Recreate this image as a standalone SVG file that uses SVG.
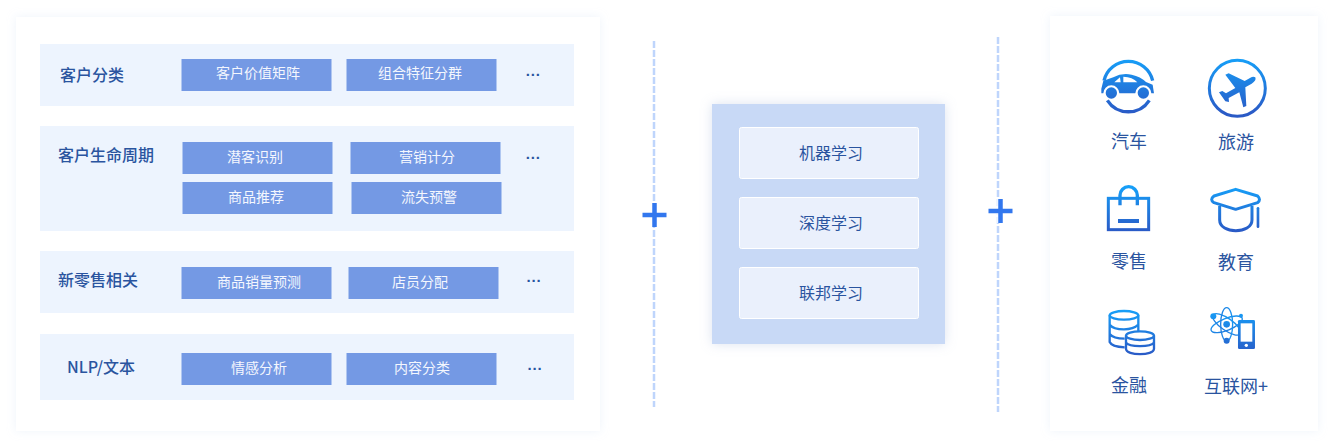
<svg xmlns="http://www.w3.org/2000/svg" width="1335" height="448" viewBox="0 0 1335 448">
<style>
text{font-family:"Noto Sans CJK SC","Noto Sans",sans-serif;text-anchor:middle}
.panel{fill:#fff;filter:url(#soft)}
.row{fill:#edf4fe}
.chip{fill:#7499e4}
.ct{font-size:14px;fill:#f4f7fe}
.rt{font-size:16px;font-weight:500;fill:#2a549f}
.dots{font-family:"Liberation Sans",sans-serif;font-size:15px;font-weight:700;fill:#2a549f}
.mid{fill:#c8d9f6;filter:url(#soft2)}
.inner{fill:#eaf0fc;stroke:#fff;stroke-width:1}
.mt{font-size:16px;fill:#2a549f}
.lt{font-size:18px;fill:#2a549f}
.dash{stroke:#bfd5fc;stroke-width:2.500;stroke-dasharray:7 2;fill:none}
.halo{stroke:#fff;stroke-width:6.500;fill:none}
.plus{stroke:#3277ee;stroke-width:4.500;fill:none}
</style>
<defs>
<filter id="soft" x="-5%" y="-5%" width="110%" height="110%"><feDropShadow dx="0" dy="0" stdDeviation="5" flood-color="#c8d6f0" flood-opacity=".3"/></filter>
<filter id="soft2" x="-10%" y="-10%" width="120%" height="120%"><feDropShadow dx="0" dy="0" stdDeviation="6" flood-color="#a8b8d8" flood-opacity=".4"/></filter>
<linearGradient id="g1" gradientUnits="userSpaceOnUse" x1="0" y1="55" x2="0" y2="220"><stop offset="0" stop-color="#169ff8"/><stop offset="1" stop-color="#2a5ac6"/></linearGradient>
<linearGradient id="g2" gradientUnits="userSpaceOnUse" x1="0" y1="50" x2="0" y2="185"><stop offset="0" stop-color="#169ff8"/><stop offset="1" stop-color="#2a5ac6"/></linearGradient>
<linearGradient id="g3" gradientUnits="userSpaceOnUse" x1="0" y1="60" x2="0" y2="195"><stop offset="0" stop-color="#169ff8"/><stop offset="1" stop-color="#2a5ac6"/></linearGradient>
</defs>

<g id="left-panel"><rect class="panel" x="16" y="17" width="584" height="414"/></g>
<g id="row-customer-class">
<rect class="row" x="40" y="44" width="534" height="62"/>
<text class="rt" x="92" y="81">客户分类</text>
<rect class="chip" x="181.500" y="59" width="150" height="32"/><text class="ct" x="258" y="78">客户价值矩阵</text>
<rect class="chip" x="346.500" y="59" width="150" height="32"/><text class="ct" x="420" y="78">组合特征分群</text>
<text class="dots" x="533.300" y="80">···</text>
</g>
<g id="row-lifecycle">
<rect class="row" x="40" y="126" width="534" height="105"/>
<text class="rt" x="106" y="161">客户生命周期</text>
<rect class="chip" x="182.500" y="142" width="150" height="32"/><text class="ct" x="255" y="162">潜客识别</text>
<rect class="chip" x="350.500" y="142" width="150" height="32"/><text class="ct" x="427" y="162">营销计分</text>
<rect class="chip" x="182.500" y="182" width="150" height="32"/><text class="ct" x="256" y="202">商品推荐</text>
<rect class="chip" x="351.500" y="182" width="150" height="32"/><text class="ct" x="429" y="202">流失预警</text>
<text class="dots" x="533.300" y="163">···</text>
</g>
<g id="row-retail">
<rect class="row" x="40" y="251" width="534" height="62"/>
<text class="rt" x="98" y="286">新零售相关</text>
<rect class="chip" x="181.500" y="267" width="150" height="32"/><text class="ct" x="259" y="287">商品销量预测</text>
<rect class="chip" x="348.500" y="267" width="150" height="32"/><text class="ct" x="420" y="287">店员分配</text>
<text class="dots" x="534" y="286">···</text>
</g>
<g id="row-nlp">
<rect class="row" x="40" y="334" width="534" height="66"/>
<text class="rt" x="101" y="373">NLP/文本</text>
<rect class="chip" x="181.500" y="353" width="150" height="32"/><text class="ct" x="259" y="373">情感分析</text>
<rect class="chip" x="346.500" y="353" width="150" height="32"/><text class="ct" x="422" y="373">内容分类</text>
<text class="dots" x="535" y="374">···</text>
</g>

<g id="connectors">
<line class="dash" x1="654" y1="41" x2="654" y2="407"/>
<line class="dash" x1="998" y1="37" x2="998" y2="412"/>
<path class="halo" d="M642.500 215H666.500M654.500 203V227"/>
<path class="halo" d="M988.500 211H1012.500M1000.500 199V223"/>
<path class="plus" d="M642.500 215H666.500M654.500 203V227"/>
<path class="plus" d="M988.500 211H1012.500M1000.500 199V223"/>
</g>

<g id="middle-panel"><rect class="mid" x="712" y="104" width="233" height="240"/></g>
<g id="node-ml"><rect class="inner" x="739.500" y="127.500" width="179" height="51" rx="2"/><text class="mt" x="831" y="159">机器学习</text></g>
<g id="node-dl"><rect class="inner" x="739.500" y="197.500" width="179" height="51" rx="2"/><text class="mt" x="831" y="229">深度学习</text></g>
<g id="node-fl"><rect class="inner" x="739.500" y="267.500" width="179" height="51" rx="2"/><text class="mt" x="831" y="299">联邦学习</text></g>

<g id="right-panel"><rect class="panel" x="1050" y="16" width="268" height="415"/></g>

<g id="node-car">
<g transform="translate(1080 40) scale(.3333)">
<path d="M72 122A75 75 0 0 1 218 122" fill="none" stroke="url(#g1)" stroke-width="10"/>
<path d="M82 181A75 75 0 0 0 208 181" fill="none" stroke="url(#g1)" stroke-width="10"/>
<path d="M64 160V146L70 122L100 112Q125 98 155 104Q182 110 198 126L218 134L222 160H214A24 24 0 0 0 166 160H118A24 24 0 0 0 70 160Z" fill="url(#g1)"/>
<path d="M120 112L103 127H122ZM130 110V127H172Q158 111 130 110Z" fill="#fff"/>
<circle cx="94" cy="159" r="17" fill="url(#g1)"/>
<circle cx="190" cy="159" r="17" fill="url(#g1)"/>
</g>
<text class="lt" x="1129" y="148">汽车</text>
</g>
<g id="node-travel">
<g transform="translate(1080 40) scale(.3333)">
<circle cx="472" cy="145" r="84" fill="none" stroke="url(#g1)" stroke-width="9"/>
<path d="M526 112Q530 122 515 131L496 142L499 198L490 202L478 157L446 174L447 186L436 184L417 157L427 153L438 160L466 144L436 104L446 100L494 123L510 114Q520 108 526 112Z" fill="url(#g1)"/>
</g>
<text class="lt" x="1236" y="149">旅游</text>
</g>
<g id="node-retail">
<g transform="translate(1080 170) scale(.3333)">
<rect x="85" y="85" width="121" height="94" fill="none" stroke="url(#g2)" stroke-width="9"/>
<path d="M120 106V76A26 26 0 0 1 172 76V106" fill="none" stroke="url(#g2)" stroke-width="10"/>
<rect x="114" y="147" width="63" height="12" fill="url(#g2)"/>
</g>
<text class="lt" x="1129" y="268">零售</text>
</g>
<g id="node-education">
<g transform="translate(1080 170) scale(.3333)">
<path d="M467 58L533 78Q544 89 533 98L467 118L402 98Q388 89 402 78Z" fill="none" stroke="url(#g2)" stroke-width="9" stroke-linejoin="round"/>
<path d="M419 108V150C419 193 516 193 516 150V108" fill="none" stroke="url(#g2)" stroke-width="9"/>
<line x1="534" y1="115" x2="534" y2="170" stroke="url(#g2)" stroke-width="8" stroke-linecap="round"/>
</g>
<text class="lt" x="1236" y="269">教育</text>
</g>
<g id="node-finance">
<g transform="translate(1080 290) scale(.3333)">
<g fill="none" stroke="url(#g3)" stroke-width="7">
<ellipse cx="132" cy="76" rx="43" ry="13"/>
<path d="M89 76V156Q95 170 134 172M89 104Q100 118 132 118Q160 118 175 104M89 132Q100 146 134 146M175 76V126"/>
<ellipse cx="180" cy="137" rx="42" ry="13" fill="#fff"/>
<path d="M138 137V176C138 198 222 198 222 176V137M138 158C148 172 212 172 222 158"/>
</g>
</g>
<text class="lt" x="1129" y="392">金融</text>
</g>
<g id="node-internet">
<g transform="translate(1080 290) scale(.3333)">
<g fill="none" stroke="url(#g3)" stroke-width="4">
<ellipse cx="440" cy="103" rx="50" ry="18" transform="rotate(-22 440 103)"/>
<ellipse cx="440" cy="103" rx="50" ry="18" transform="rotate(35 440 103)"/>
<ellipse cx="440" cy="103" rx="50" ry="18" transform="rotate(90 440 103)"/>
</g>
<circle cx="440" cy="103" r="10" fill="url(#g3)"/>
<circle cx="400" cy="79" r="9" fill="url(#g3)"/>
<circle cx="483" cy="77" r="6" fill="url(#g3)"/>
<circle cx="440" cy="152" r="9" fill="url(#g3)"/>
<rect x="474" y="90" width="51" height="87" rx="4" fill="url(#g3)"/>
<rect x="482" y="100" width="35" height="55" fill="#fff"/>
<circle cx="499" cy="166" r="5" fill="#fff"/>
</g>
<text class="lt" x="1236" y="393">互联网+</text>
</g>
</svg>
